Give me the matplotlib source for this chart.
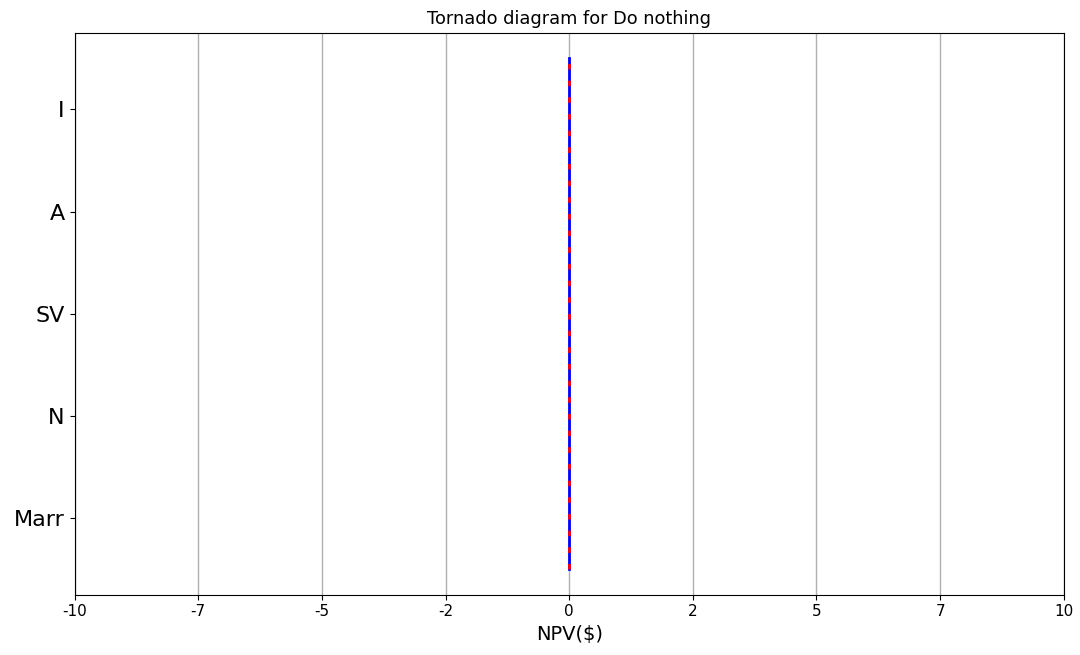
import numpy as np
import matplotlib
matplotlib.use("Agg")
import matplotlib.pyplot as plt

variables = ["Marr", "N", "SV", "A", "I"]
low_npv = [0, 0, 0, 0, 0]
high_npv = [0, 0, 0, 0, 0]
base_npv = 0
xticks = np.linspace(-10, 10, 9)
xtick_labels = [str(int(v)) for v in xticks]

fig, ax = plt.subplots(figsize=(10.8, 6.55), dpi=100)
fig.subplots_adjust(left=0.069, right=0.985, top=0.95, bottom=0.092)

ypos = np.arange(len(variables))
ax.barh(ypos, np.array(low_npv) - base_npv, left=base_npv, color="red", height=0.8)
ax.barh(ypos, np.array(high_npv) - base_npv, left=base_npv, color="blue", height=0.8)

span = [ypos[0] - 0.5, ypos[-1] + 0.5]
ax.plot([base_npv, base_npv], span, color="blue", linewidth=2, zorder=3)
ax.plot([base_npv, base_npv], span, color="red", linewidth=2, linestyle=(0, (2, 4)), zorder=4)

ax.set_xlim(-10, 10)
ax.set_xticks(xticks)
ax.set_xticklabels(xtick_labels, fontsize=11)
ax.set_yticks(ypos)
ax.set_yticklabels(variables, fontsize=16)
ax.grid(axis="x", color="#b0b0b0", linewidth=1)
ax.set_axisbelow(True)
ax.set_xlabel("NPV($)", fontsize=14)
ax.set_title("Tornado diagram for Do nothing", fontsize=12.8)

fig.savefig("out.png", dpi=100)
